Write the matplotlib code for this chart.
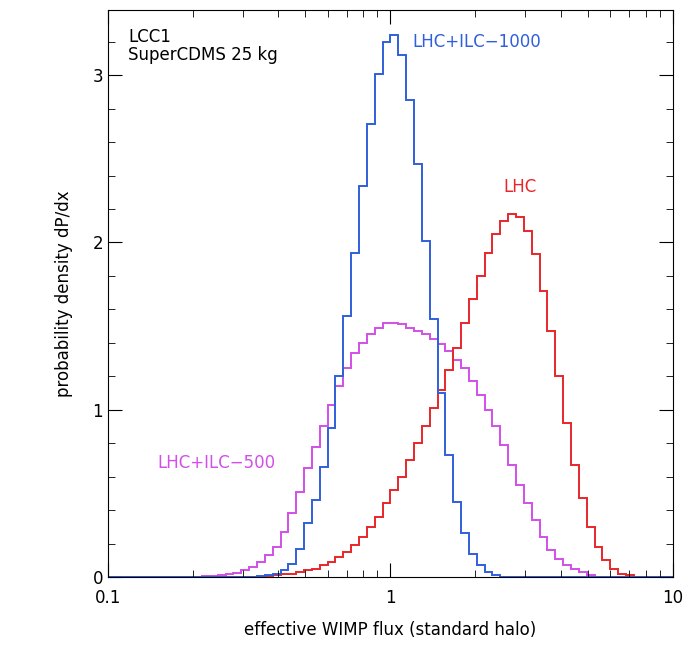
import numpy as np
import matplotlib.pyplot as plt
from matplotlib.ticker import MultipleLocator, FixedLocator, NullFormatter

# 36 log bins per decade, 0.1 .. 10
n_bins = 72
edges = 10 ** (-1 + np.arange(n_bins + 1) / 36)

# bin values (first index given)
blue_start = 19
blue = [0.005, 0.01, 0.02, 0.04, 0.08, 0.17, 0.32, 0.46, 0.66, 0.89, 1.20, 1.56,
        1.94, 2.34, 2.71, 3.01, 3.20, 3.24, 3.12, 2.85, 2.47, 2.01, 1.54, 1.10,
        0.73, 0.45, 0.26, 0.14, 0.07, 0.03, 0.01]
purple_start = 12
purple = [0.003, 0.005, 0.01, 0.015, 0.025, 0.04, 0.06, 0.09, 0.13, 0.18, 0.27, 0.38,
          0.51, 0.65, 0.78, 0.90, 1.03, 1.14, 1.25, 1.34, 1.40, 1.45, 1.49, 1.52,
          1.52, 1.51, 1.49, 1.47, 1.45, 1.42, 1.39, 1.35, 1.30, 1.25, 1.17, 1.09,
          1.00, 0.90, 0.79, 0.67, 0.55, 0.44, 0.34, 0.24, 0.16, 0.11, 0.07, 0.05,
          0.03, 0.01]
red_start = 20
red = [0.005, 0.01, 0.015, 0.02, 0.03, 0.04, 0.05, 0.07, 0.09, 0.12, 0.15, 0.19,
       0.24, 0.30, 0.36, 0.44, 0.52, 0.60, 0.70, 0.80, 0.90, 1.01, 1.12, 1.24,
       1.37, 1.52, 1.66, 1.80, 1.94, 2.05, 2.13, 2.17, 2.15, 2.07, 1.93, 1.71,
       1.47, 1.20, 0.92, 0.67, 0.47, 0.30, 0.18, 0.10, 0.05, 0.02, 0.01]


def full(start, vals):
    h = np.zeros(n_bins)
    h[start:start + len(vals)] = vals
    return h


fig = plt.figure(figsize=(6.91, 6.48), dpi=100)
ax = fig.add_axes([0.156, 0.1096, 0.818, 0.875])
ax.stairs(full(purple_start, purple), edges, color='#d24fe8', lw=1.4)
ax.stairs(full(red_start, red), edges, color='#e8262a', lw=1.4)
ax.stairs(full(blue_start, blue), edges, color='#2f5fdc', lw=1.4)

ax.set_xscale('log')
ax.set_xlim(0.1, 10)
ax.set_ylim(0, 3.39)
ax.xaxis.set_major_locator(FixedLocator([0.1, 1, 10]))
ax.set_xticklabels(['0.1', '1', '10'])
ax.xaxis.set_minor_formatter(NullFormatter())
ax.yaxis.set_major_locator(MultipleLocator(1))
ax.yaxis.set_minor_locator(MultipleLocator(0.2))
ax.tick_params(which='both', direction='in', top=True, right=True, labelsize=12)
ax.tick_params(which='major', length=10)
ax.tick_params(which='minor', length=5)
ax.tick_params(axis='x', pad=9)
ax.set_xlabel('effective WIMP flux (standard halo)', fontsize=12, labelpad=10)
ax.set_ylabel('probability density dP/dx', fontsize=12, labelpad=14)

ax.text(0.118, 3.28, 'LCC1\nSuperCDMS 25 kg', fontsize=12, va='top', linespacing=0.95)
ax.text(1.2, 3.17, 'LHC+ILC\u22121000', color='#2f5fdc', fontsize=12)
ax.text(2.5, 2.3, 'LHC', color='#e8262a', fontsize=12)
ax.text(0.15, 0.65, 'LHC+ILC\u2212500', color='#d24fe8', fontsize=12)

fig.savefig('out.png')
